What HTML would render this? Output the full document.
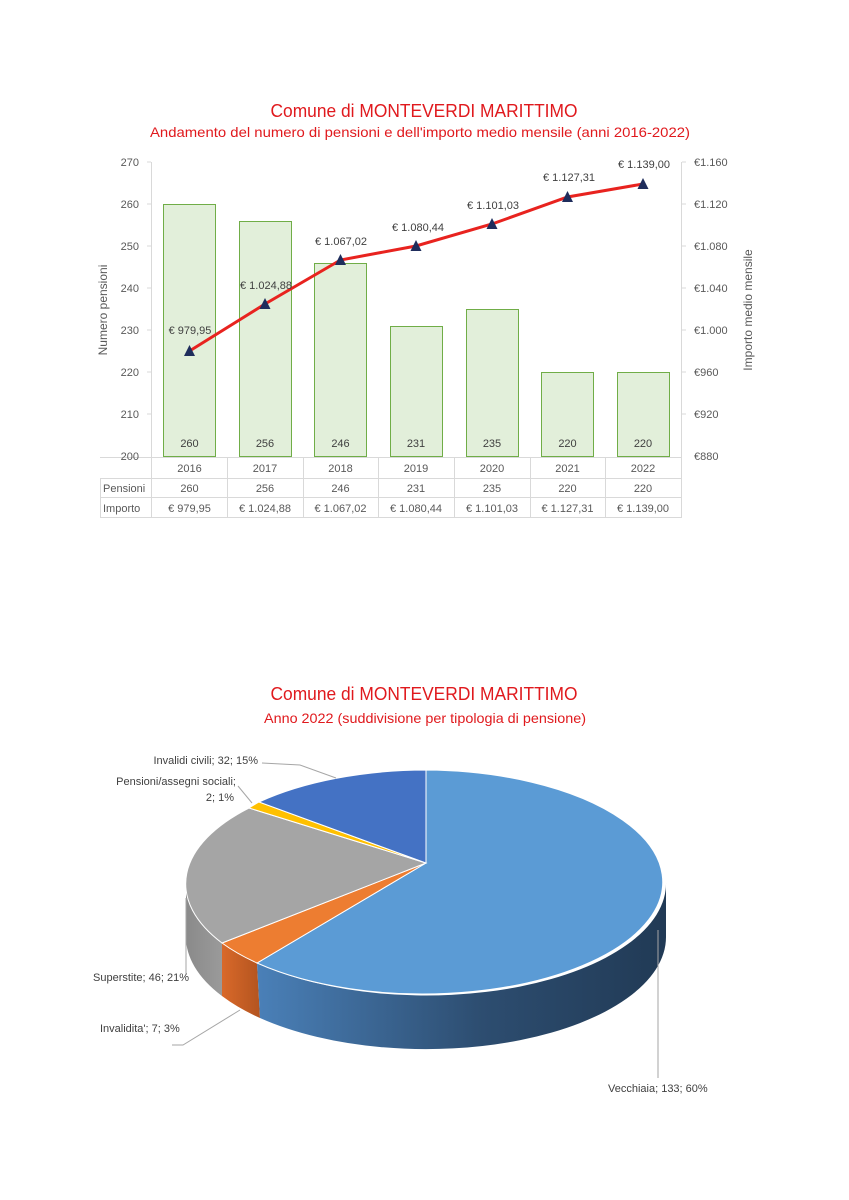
<!DOCTYPE html>
<html><head><meta charset="utf-8"><style>
html,body{margin:0;padding:0;background:#fff;}
svg{display:block;}
text{font-family:"Liberation Sans",sans-serif;}
</style></head><body>
<svg width="849" height="1200" viewBox="0 0 849 1200" xmlns="http://www.w3.org/2000/svg">
<defs>
<linearGradient id="bs" x1="0" x2="1" y1="0" y2="0">
<stop offset="0" stop-color="#4a80b8"/><stop offset="0.55" stop-color="#2d4d70"/><stop offset="1" stop-color="#213a55"/>
</linearGradient>
<linearGradient id="os" x1="0" x2="1"><stop offset="0" stop-color="#d9692a"/><stop offset="1" stop-color="#b3541f"/></linearGradient>
<linearGradient id="gs" x1="0" x2="1"><stop offset="0" stop-color="#8a8a8a"/><stop offset="1" stop-color="#9a9a9a"/></linearGradient>
</defs>

<!-- Titles -->
<text x="424" y="117" font-size="18" fill="#e0191d" text-anchor="middle" textLength="307" lengthAdjust="spacingAndGlyphs">Comune di MONTEVERDI MARITTIMO</text>
<text x="420" y="137" font-size="14" fill="#e0191d" text-anchor="middle" textLength="540" lengthAdjust="spacingAndGlyphs">Andamento del numero di pensioni e dell'importo medio mensile (anni 2016-2022)</text>

<!-- axes -->
<g stroke="#d9d9d9" stroke-width="1" fill="none">
<line x1="151.5" y1="162" x2="151.5" y2="518"/>
<line x1="681.5" y1="162" x2="681.5" y2="518"/>
<line x1="100" y1="457.5" x2="681" y2="457.5"/>
<line x1="100" y1="478.5" x2="681" y2="478.5"/>
<line x1="100" y1="497.5" x2="681" y2="497.5"/>
<line x1="100" y1="517.5" x2="681" y2="517.5"/>
<line x1="100.5" y1="478" x2="100.5" y2="518"/>
<line x1="227.5" y1="457" x2="227.5" y2="518"/>
<line x1="303.5" y1="457" x2="303.5" y2="518"/>
<line x1="378.5" y1="457" x2="378.5" y2="518"/>
<line x1="454.5" y1="457" x2="454.5" y2="518"/>
<line x1="530.5" y1="457" x2="530.5" y2="518"/>
<line x1="605.5" y1="457" x2="605.5" y2="518"/>
<!-- ticks -->
<line x1="147" y1="162" x2="151" y2="162"/><line x1="147" y1="204" x2="151" y2="204"/>
<line x1="147" y1="246" x2="151" y2="246"/><line x1="147" y1="288" x2="151" y2="288"/>
<line x1="147" y1="330" x2="151" y2="330"/><line x1="147" y1="372" x2="151" y2="372"/>
<line x1="147" y1="414" x2="151" y2="414"/>
<line x1="682" y1="162" x2="686" y2="162"/><line x1="682" y1="204" x2="686" y2="204"/>
<line x1="682" y1="246" x2="686" y2="246"/><line x1="682" y1="288" x2="686" y2="288"/>
<line x1="682" y1="330" x2="686" y2="330"/><line x1="682" y1="372" x2="686" y2="372"/>
<line x1="682" y1="414" x2="686" y2="414"/>
</g>

<!-- left axis labels -->
<g font-size="11" fill="#595959" text-anchor="end">
<text x="139" y="166">270</text><text x="139" y="208">260</text><text x="139" y="250">250</text>
<text x="139" y="292">240</text><text x="139" y="334">230</text><text x="139" y="376">220</text>
<text x="139" y="418">210</text><text x="139" y="460">200</text>
</g>
<g font-size="11" fill="#595959">
<text x="694" y="166">€1.160</text><text x="694" y="208">€1.120</text><text x="694" y="250">€1.080</text>
<text x="694" y="292">€1.040</text><text x="694" y="334">€1.000</text><text x="694" y="376">€960</text>
<text x="694" y="418">€920</text><text x="694" y="460">€880</text>
</g>
<text transform="translate(107,310) rotate(-90)" font-size="12" fill="#595959" text-anchor="middle">Numero pensioni</text>
<text transform="translate(752,310) rotate(-90)" font-size="12" fill="#595959" text-anchor="middle">Importo medio mensile</text>

<!-- bars -->
<g fill="#e2efda" stroke="#70ad47" stroke-width="1">
<rect x="163.5" y="204.5" width="52" height="252"/>
<rect x="239.5" y="221.5" width="52" height="235"/>
<rect x="314.5" y="263.5" width="52" height="193"/>
<rect x="390.5" y="326.5" width="52" height="130"/>
<rect x="466.5" y="309.5" width="52" height="147"/>
<rect x="541.5" y="372.5" width="52" height="84"/>
<rect x="617.5" y="372.5" width="52" height="84"/>
</g>
<g font-size="11" fill="#404040" text-anchor="middle">
<text x="189.5" y="447">260</text><text x="265" y="447">256</text><text x="340.5" y="447">246</text>
<text x="416" y="447">231</text><text x="492" y="447">235</text><text x="567.5" y="447">220</text><text x="643" y="447">220</text>
</g>

<!-- line -->
<polyline points="189.5,351 265,304 340.5,260 416,246 492,224 567.5,197 643,184" fill="none" stroke="#e8231f" stroke-width="3"/>
<g fill="#1f2d5c">
<polygon points="189.5,345 195,356 184,356"/><polygon points="265,298 270.5,309 259.5,309"/>
<polygon points="340.5,254 346,265 335,265"/><polygon points="416,240 421.5,251 410.5,251"/>
<polygon points="492,218 497.5,229 486.5,229"/><polygon points="567.5,191 573,202 562,202"/>
<polygon points="643,178 648.5,189 637.5,189"/>
</g>
<g font-size="11" fill="#404040" text-anchor="middle">
<text x="190" y="334">€ 979,95</text><text x="266" y="289">€ 1.024,88</text>
<text x="341" y="245">€ 1.067,02</text><text x="418" y="231">€ 1.080,44</text>
<text x="493" y="209">€ 1.101,03</text><text x="569" y="181">€ 1.127,31</text>
<text x="644" y="168">€ 1.139,00</text>
</g>

<!-- table -->
<g font-size="11" fill="#595959" text-anchor="middle">
<text x="189.5" y="472">2016</text><text x="265" y="472">2017</text><text x="340.5" y="472">2018</text>
<text x="416" y="472">2019</text><text x="492" y="472">2020</text><text x="567.5" y="472">2021</text><text x="643" y="472">2022</text>
<text x="189.5" y="492">260</text><text x="265" y="492">256</text><text x="340.5" y="492">246</text>
<text x="416" y="492">231</text><text x="492" y="492">235</text><text x="567.5" y="492">220</text><text x="643" y="492">220</text>
<text x="189.5" y="512">€ 979,95</text><text x="265" y="512">€ 1.024,88</text><text x="340.5" y="512">€ 1.067,02</text>
<text x="416" y="512">€ 1.080,44</text><text x="492" y="512">€ 1.101,03</text><text x="567.5" y="512">€ 1.127,31</text><text x="643" y="512">€ 1.139,00</text>
<text x="103" y="492" text-anchor="start">Pensioni</text><text x="103" y="512" text-anchor="start">Importo</text>
</g>

<!-- Pie titles -->
<text x="424" y="700" font-size="18" fill="#e0191d" text-anchor="middle" textLength="307" lengthAdjust="spacingAndGlyphs">Comune di MONTEVERDI MARITTIMO</text>
<text x="425" y="723" font-size="14" fill="#e0191d" text-anchor="middle" textLength="322" lengthAdjust="spacingAndGlyphs">Anno 2022 (suddivisione per tipologia di pensione)</text>

<!-- pie sides -->
<path d="M186,882 A240,112 0 0 0 222,943 L222,996 A240,112 0 0 1 186,935 Z" fill="url(#gs)"/>
<path d="M222,943 A240,112 0 0 0 257,963 L260,1018 A240,112 0 0 1 222,996 Z" fill="url(#os)"/>
<path d="M257,963 A240,112 0 0 0 666,882 L666,937 A240,112 0 0 1 260,1018 Z" fill="url(#bs)"/>
<!-- pie top -->
<g stroke="#fff" stroke-width="1">
<path d="M426,863 L426,770 A240,112 0 1 1 257,963 Z" fill="#5b9bd5"/>
<path d="M426,863 L257,963 A240,112 0 0 1 222,943 Z" fill="#ed7d31"/>
<path d="M426,863 L222,943 A240,112 0 0 1 249,808 Z" fill="#a5a5a5"/>
<path d="M426,863 L249,808 A240,112 0 0 1 259,802 Z" fill="#ffc000"/>
<path d="M426,863 L259,802 A240,112 0 0 1 426,770 Z" fill="#4472c4"/>
</g>

<!-- leaders -->
<g stroke="#a6a6a6" stroke-width="1" fill="none">
<polyline points="262,763 300,765 336,778"/>
<polyline points="238,786 252,803"/>
<polyline points="186,975 186,898"/>
<polyline points="172,1045 183,1045 240,1010"/>
<polyline points="658,1078 658,930"/>
</g>
<g font-size="11" fill="#404040">
<text x="258" y="764" text-anchor="end">Invalidi civili; 32; 15%</text>
<text x="236" y="785" text-anchor="end">Pensioni/assegni sociali;</text>
<text x="220" y="801" text-anchor="middle">2; 1%</text>
<text x="93" y="981">Superstite; 46; 21%</text>
<text x="100" y="1032">Invalidita'; 7; 3%</text>
<text x="608" y="1092">Vecchiaia; 133; 60%</text>
</g>
</svg>
</body></html>
